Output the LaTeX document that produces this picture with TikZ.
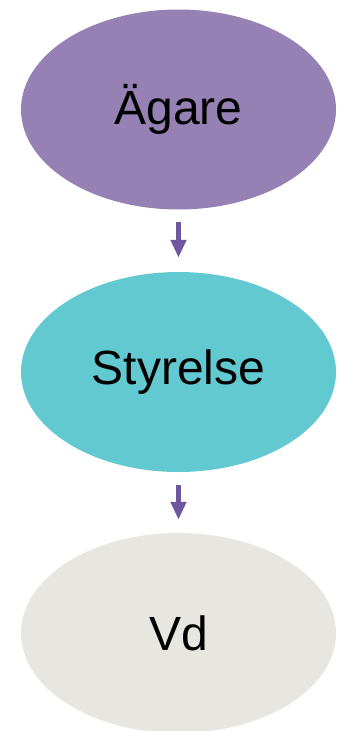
\documentclass[tikz,border=0pt]{standalone}
\usepackage{fontspec}
\setmainfont{Liberation Sans}
\usetikzlibrary{shapes.geometric,arrows.meta}
\definecolor{owner}{HTML}{9581B3}
\definecolor{board}{HTML}{63C9D1}
\definecolor{ceo}{HTML}{E8E6E0}
\definecolor{arrowc}{HTML}{6F57A0}
\begin{document}
\begin{tikzpicture}[x=1pt,y=1pt,
    blob/.style={ellipse,inner sep=0pt,minimum width=315pt,minimum height=200pt,
      font=\fontsize{48}{57}\selectfont},
    link/.style={-{Triangle[width=15pt,length=18pt]},line width=5pt,draw=arrowc}]
  \useasboundingbox (0,0) rectangle (337,-731);
  \draw
    (178.5,-109.5) node[blob,fill=owner] (agare){Ägare}
    (178.5,-372) node[blob,fill=board] (styrelse){Styrelse}
    (178.5,-633) node[blob,fill=ceo] (vd){Vd};
  \begin{scope}[link]
    \draw[shorten <=12pt,shorten >=14pt] (agare) to (styrelse);
    \draw[shorten <=13pt,shorten >=13pt] (styrelse) to (vd);
  \end{scope}
\end{tikzpicture}
\end{document}
